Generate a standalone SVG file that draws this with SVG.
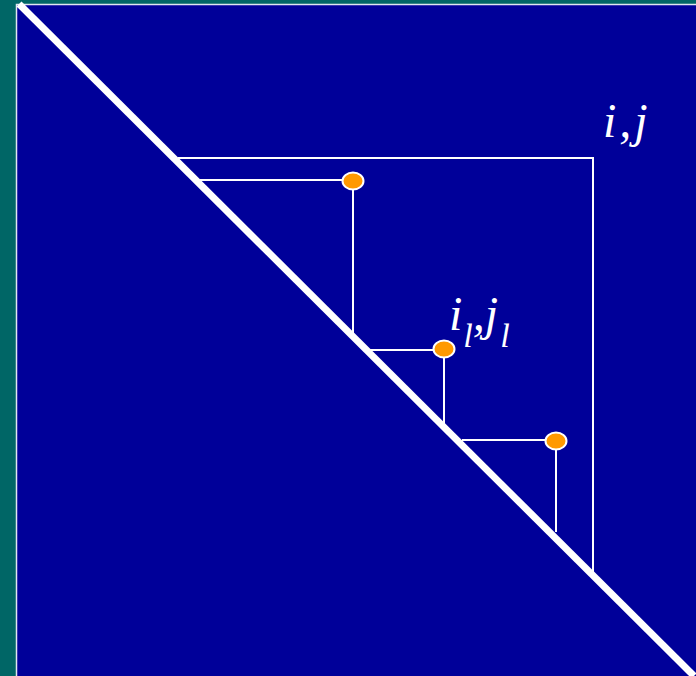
<svg xmlns="http://www.w3.org/2000/svg" width="696" height="676" viewBox="0 0 696 676">
<style>
.ln{stroke:#fff;stroke-width:2;fill:none}
.dot{fill:#FF9900;stroke:#fff;stroke-width:2}
.t{font-family:"Liberation Serif",serif;font-style:italic;fill:#fff}
</style>
<rect width="696" height="676" fill="#006666"/>
<rect x="16.5" y="4.5" width="690" height="680" fill="#000099" stroke="#dfe6f0" stroke-width="1.5"/>
<g id="connectors">
<polyline class="ln" points="178,158 593,158 593,572"/>
<polyline class="ln" points="200,180 353,180 353,334"/>
<polyline class="ln" points="370,350 444,350 444,425"/>
<polyline class="ln" points="462,440 556,440 556,532"/>
</g>
<line id="diagonal" x1="19" y1="4" x2="694" y2="676" stroke="#fff" stroke-width="7"/>
<g id="node1"><ellipse class="dot" cx="353" cy="181" rx="10.5" ry="8.5"/></g>
<g id="node2"><ellipse class="dot" cx="444" cy="349" rx="10.5" ry="8.5"/></g>
<g id="node3"><ellipse class="dot" cx="556" cy="441" rx="10.5" ry="8.5"/></g>
<g id="label-ij"><text class="t" x="603" y="137" font-size="48" letter-spacing="3">i,j</text></g>
<g id="label-iljl"><text class="t" x="449" y="330" font-size="48">i<tspan font-size="34" dy="17" dx="1">l</tspan><tspan font-size="48" dy="-17" dx="0">,j</tspan><tspan font-size="34" dy="17" dx="2">l</tspan></text></g>
</svg>
